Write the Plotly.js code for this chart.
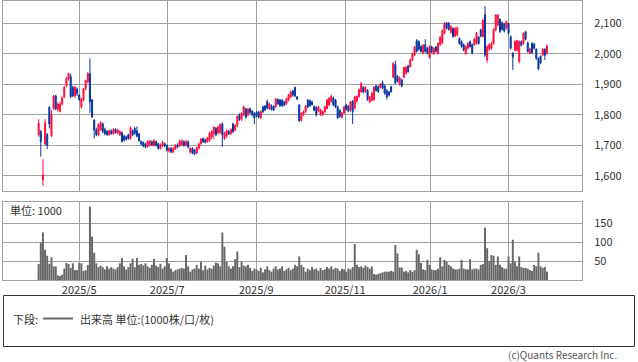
<!DOCTYPE html>
<html>
<head>
<meta charset="utf-8">
<script src="https://cdn.plot.ly/plotly-3.0.1.min.js"></script>
<style>html,body{margin:0;padding:0;background:#fff;}#chart{width:638px;height:362px;}</style>
</head>
<body>
<div id="chart"></div>
<script>
// ---- data (trading-day index 0 = 2025/4/3) ----
var openP = [
1734,1745,1586,1705,1735,1825,1730,1820,1862,1818,
1812,1835,1858,1895,1918,1925,1890,1862,1885,1865,
1826,1850,1885,1908,1935,1849,1783,1750,1735,1750,
1770,1752,1745,1735,1748,1738,1752,1740,1735,1742,
1730,1728,1735,1722,1748,1755,1748,1738,1712,1710,
1704,1696,1700,1712,1700,1712,1705,1690,1698,1705,
1700,1682,1690,1678,1688,1702,1698,1702,1712,1700,
1712,1678,1690,1685,1675,1690,1705,1722,1718,1712,
1715,1728,1738,1756,1740,1742,1770,1722,1730,1745,
1738,1770,1750,1765,1800,1785,1800,1820,1800,1820,
1812,1805,1808,1810,1790,1826,1829,1843,1820,1830,
1828,1827,1850,1848,1848,1843,1836,1848,1858,1878,
1890,1858,1832,1782,1800,1810,1848,1846,1842,1828,
1824,1812,1800,1800,1810,1821,1832,1843,1855,1848,
1826,1815,1792,1806,1832,1828,1815,1845,1822,1845,
1860,1876,1890,1876,1880,1842,1848,1850,1895,1892,
1890,1905,1895,1880,1875,1892,1923,1965,1926,1900,
1915,1923,1936,1960,1958,1980,1996,2043,2040,2024,
2002,2030,2018,1988,2023,2000,2022,2001,2030,2036,
2067,2100,2100,2070,2083,2058,2062,2050,2040,2030,
2000,2018,2040,2030,2030,2034,2055,2078,2056,2128,
1980,2015,2018,2034,2078,2095,2113,2102,2098,2084,
2098,2056,2002,2012,2012,1975,2040,2034,2072,2036,
2002,2034,2032,2015,1985,1992,1996,2015,2002];
var highP = [
1786,1750,1655,1786,1740,1828,1815,1865,1866,1840,
1842,1860,1895,1925,1938,1935,1895,1895,1890,1868,
1856,1888,1915,1940,1985,1852,1785,1758,1772,1778,
1775,1758,1750,1752,1752,1756,1756,1755,1750,1745,
1735,1732,1738,1762,1752,1760,1762,1740,1716,1712,
1708,1716,1718,1716,1720,1716,1708,1706,1715,1710,
1702,1695,1694,1694,1705,1706,1718,1720,1716,1718,
1716,1694,1694,1688,1696,1708,1724,1726,1722,1728,
1744,1750,1762,1760,1765,1772,1775,1745,1752,1750,
1756,1775,1770,1798,1805,1808,1830,1822,1822,1824,
1815,1808,1812,1812,1815,1830,1832,1850,1840,1834,
1830,1855,1854,1852,1852,1846,1857,1868,1880,1882,
1892,1862,1835,1808,1815,1832,1852,1850,1846,1830,
1828,1830,1820,1814,1830,1852,1858,1866,1860,1852,
1830,1818,1810,1830,1836,1832,1846,1848,1862,1864,
1886,1908,1894,1894,1884,1862,1875,1894,1898,1896,
1904,1912,1898,1884,1878,1895,1972,1977,1930,1926,
1918,1958,1960,1964,1985,2004,2026,2048,2044,2028,
2032,2048,2022,2028,2026,2022,2026,2038,2058,2080,
2104,2104,2104,2094,2087,2087,2090,2054,2044,2034,
2028,2038,2044,2034,2052,2072,2058,2082,2115,2157,
2028,2034,2040,2084,2130,2130,2116,2106,2100,2108,
2102,2060,2005,2044,2046,2044,2044,2070,2075,2040,
2020,2038,2036,2018,1988,1995,2018,2018,2030];
var lowP = [
1728,1663,1567,1700,1688,1755,1727,1815,1815,1810,
1808,1832,1855,1890,1912,1855,1858,1855,1862,1845,
1820,1845,1880,1905,1806,1790,1722,1730,1730,1748,
1740,1733,1730,1732,1735,1735,1738,1736,1730,1710,
1712,1716,1718,1718,1730,1735,1726,1712,1700,1694,
1690,1692,1696,1698,1696,1696,1686,1686,1694,1694,
1680,1676,1674,1675,1685,1690,1694,1698,1696,1696,
1690,1672,1671,1668,1672,1686,1702,1708,1706,1708,
1712,1720,1720,1730,1736,1738,1695,1718,1725,1734,
1734,1740,1746,1760,1780,1780,1796,1788,1795,1802,
1795,1770,1792,1788,1786,1806,1812,1818,1816,1814,
1812,1822,1832,1826,1826,1828,1832,1844,1855,1860,
1858,1848,1778,1778,1796,1806,1822,1826,1830,1812,
1794,1808,1796,1796,1806,1818,1828,1840,1828,1822,
1786,1790,1788,1802,1814,1808,1810,1770,1818,1840,
1856,1872,1870,1872,1846,1838,1844,1846,1876,1872,
1886,1884,1866,1850,1860,1872,1920,1900,1906,1896,
1890,1920,1932,1938,1955,1976,1992,2004,2010,2004,
1998,2004,1998,1984,2002,1996,2004,1998,2026,2032,
2064,2080,2076,2066,2052,2054,2058,2030,2020,2008,
1996,2014,2020,1998,2026,2030,2030,2054,2054,1990,
1971,2010,2014,2030,2074,2090,2068,2076,2070,2080,
2062,2014,1947,2008,2008,1969,2024,2030,2044,2004,
1998,2000,2014,1980,1946,1966,1992,1980,1998];
var closeP = [
1772,1712,1604,1775,1700,1770,1800,1862,1820,1835,
1835,1855,1890,1920,1935,1860,1862,1890,1870,1850,
1852,1885,1912,1935,1843,1793,1750,1735,1768,1775,
1745,1738,1735,1748,1738,1752,1742,1750,1745,1712,
1718,1720,1722,1758,1735,1740,1730,1715,1705,1698,
1695,1712,1715,1702,1715,1700,1690,1702,1710,1698,
1685,1690,1678,1690,1700,1695,1712,1715,1700,1712,
1695,1690,1675,1672,1692,1705,1720,1712,1710,1725,
1740,1745,1760,1735,1760,1768,1735,1740,1748,1738,
1752,1745,1765,1795,1785,1805,1826,1792,1818,1808,
1800,1790,1796,1792,1810,1810,1816,1822,1835,1818,
1815,1851,1836,1830,1830,1832,1853,1865,1875,1865,
1862,1852,1780,1805,1810,1828,1826,1830,1834,1815,
1800,1826,1815,1810,1826,1848,1854,1860,1832,1826,
1790,1795,1806,1826,1818,1812,1842,1810,1858,1860,
1882,1903,1875,1890,1850,1858,1870,1890,1880,1876,
1900,1888,1870,1858,1865,1876,1968,1905,1910,1922,
1895,1955,1955,1942,1980,2000,2022,2008,2015,2008,
2028,2008,2002,2023,2005,2018,2008,2034,2054,2076,
2100,2084,2080,2090,2057,2083,2085,2034,2024,2012,
2024,2034,2024,2002,2048,2067,2034,2058,2110,1996,
2023,2030,2034,2080,2127,2127,2073,2080,2075,2105,
2067,2018,1990,2040,2043,2040,2028,2067,2048,2007,
2015,2004,2018,1985,1950,1970,2015,1995,2026];
var volume = [
42,99,125,80,64,43,60,36,36,12,
10,14,30,45,42,32,44,26,26,45,
44,24,26,40,193,115,72,44,34,38,
34,28,36,30,34,30,28,34,44,58,
36,28,34,44,56,34,58,40,42,38,
44,36,32,40,56,38,34,42,30,36,
58,44,30,22,26,28,30,32,30,66,
36,22,28,30,40,30,48,26,38,28,
32,30,38,46,44,36,125,88,48,36,
30,36,55,75,34,48,38,36,40,32,
24,30,28,24,32,20,28,36,26,22,
30,36,28,30,36,24,28,32,26,30,
40,36,62,40,34,22,30,26,34,28,
30,24,32,26,28,34,30,36,28,32,
30,24,30,28,22,30,28,34,95,40,
34,36,32,38,34,30,36,16,14,16,
18,20,22,22,22,24,22,92,70,33,
33,22,24,20,26,22,26,80,68,45,
28,26,53,40,28,26,26,30,60,36,
53,48,40,36,30,28,28,30,53,30,
28,28,55,28,30,30,28,40,42,138,
84,50,66,64,40,62,40,34,30,30,
62,44,106,48,36,62,34,32,32,30,
26,24,40,36,72,36,32,34,22];
var monthTickPos = [19.0, 60.2, 101.9, 143.5, 183.3, 220.0];
var monthTickText = ["2025/5","2025/7","2025/9","2025/11","2026/1","2026/3"];
var priceTicks = [1600,1700,1800,1900,2000,2100];
var volTicks = [50,100,150];

var idx = openP.map(function(_, i){ return i; });

var FONT = "Noto Sans CJK JP, Noto Sans, sans-serif";
var GRID = "#a0a0a0";
var RED = "#ff1040";
var BLUE = "#0836a0";

var candle = {
  type: "candlestick", x: idx, open: openP, high: highP, low: lowP, close: closeP,
  xaxis: "x", yaxis: "y",
  increasing: {line: {color: RED, width: 1}, fillcolor: RED},
  decreasing: {line: {color: BLUE, width: 1}, fillcolor: BLUE},
  whiskerwidth: 0, showlegend: false, hoverinfo: "none"
};
var bars = {
  type: "bar", x: idx, y: volume, xaxis: "x2", yaxis: "y2",
  marker: {color: "#666666", line: {width: 0}}, showlegend: false, hoverinfo: "none"
};

var xr = [-16.7, 254.4];
function px(p){ return (p - 3) / 579; }
function py(p){ return (280 - p) / 279; }

var layout = {
  width: 638, height: 362,
  margin: {l: 3, r: 56, t: 1, b: 82, pad: 0},
  paper_bgcolor: "#ffffff", plot_bgcolor: "#ffffff",
  font: {family: FONT, size: 11, color: "#333333"},
  boxgap: 0.3,
  bargap: 0.08,
  showlegend: false,
  xaxis: {
    domain: [0, 1], anchor: "y", range: xr, type: "linear",
    tickvals: monthTickPos, ticktext: monthTickText, showticklabels: false,
    showgrid: true, gridcolor: GRID, gridwidth: 1, zeroline: false,
    showline: true, mirror: true, linecolor: GRID, linewidth: 1, ticks: "",
    rangeslider: {visible: false}, fixedrange: true
  },
  yaxis: {
    domain: [py(190.5), 1], anchor: "x", side: "right", range: [1552, 2173],
    tickvals: priceTicks, tickformat: ",d", ticks: "", ticklabelstandoff: 9,
    showgrid: true, gridcolor: GRID, gridwidth: 1, zeroline: false,
    showline: true, mirror: true, linecolor: GRID, linewidth: 1,
    tickfont: {size: 11, color: "#333333", family: FONT}
  },
  xaxis2: {
    domain: [0, 1], anchor: "y2", range: xr, type: "linear", matches: "x",
    tickvals: monthTickPos, ticktext: monthTickText, showticklabels: true,
    showgrid: true, gridcolor: GRID, gridwidth: 1, zeroline: false,
    showline: true, mirror: true, linecolor: GRID, linewidth: 1, ticks: "",
    ticklabelstandoff: 0,
    tickfont: {size: 11, color: "#333333", family: FONT}
  },
  yaxis2: {
    domain: [0, py(201.5)], anchor: "x2", side: "right", range: [0, 207],
    tickvals: volTicks, ticks: "", ticklabelstandoff: 9,
    showgrid: true, gridcolor: GRID, gridwidth: 1, zeroline: false,
    showline: true, mirror: true, linecolor: GRID, linewidth: 1,
    tickfont: {size: 11, color: "#333333", family: FONT}
  },
  shapes: [
    {type: "rect", xref: "paper", yref: "paper", x0: px(3.5), x1: px(634.5), y0: py(346.5), y1: py(295.5),
     line: {color: "#333333", width: 1}, fillcolor: "rgba(0,0,0,0)", layer: "above"},
    {type: "line", xref: "paper", yref: "paper", x0: px(43), x1: px(73), y0: py(318.5), y1: py(318.5),
     line: {color: "#666666", width: 2}, layer: "above"}
  ],
  annotations: [
    {text: "単位: 1000", xref: "paper", yref: "paper", x: px(8), y: py(210), xanchor: "left", yanchor: "middle",
     showarrow: false, font: {size: 11, color: "#333333", family: FONT}},
    {text: "下段:", xref: "paper", yref: "paper", x: px(11), y: py(318.5), xanchor: "left", yanchor: "middle",
     showarrow: false, font: {size: 11, color: "#333333", family: FONT}},
    {text: "出来高 単位:(1000株/口/枚)", xref: "paper", yref: "paper", x: px(78), y: py(318.5), xanchor: "left", yanchor: "middle",
     showarrow: false, font: {size: 11, color: "#333333", family: FONT}},
    {text: "(c)Quants Research Inc.", xref: "paper", yref: "paper", x: px(619), y: py(354.5), xanchor: "right", yanchor: "middle",
     showarrow: false, font: {size: 10, color: "#555555", family: FONT}}
  ]
};

Plotly.newPlot("chart", [candle, bars], layout, {staticPlot: true, displayModeBar: false});
</script>
</body>
</html>
